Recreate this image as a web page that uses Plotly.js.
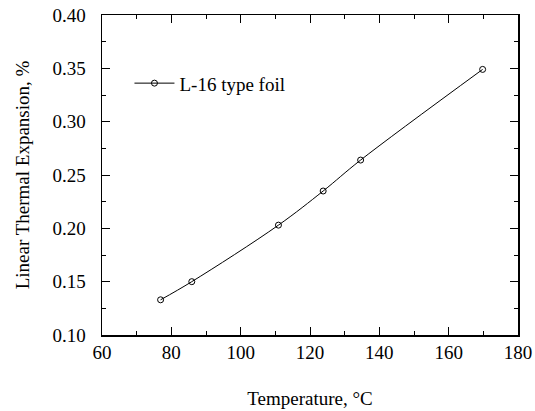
<!DOCTYPE html>
<html><head><meta charset="utf-8">
<script src="https://cdn.plot.ly/plotly-3.0.1.min.js"></script>
<style>body{margin:0;background:#fff}</style>
</head><body>
<div id="chart" style="width:535px;height:411px"></div>
<script>
var temperature = [76.9, 85.9, 110.9, 123.8, 134.6, 169.8];
var expansion = [0.133, 0.150, 0.203, 0.235, 0.264, 0.349];
var seriesName = "L-16 type foil";

var font = {family: "Liberation Serif, Times New Roman, serif", size: 19, color: "#000"};
var trace = {
  x: temperature, y: expansion, name: seriesName,
  type: "scatter", mode: "lines+markers",
  line: {color: "#000", width: 1, shape: "spline", smoothing: 1},
  marker: {symbol: "circle-open", size: 6, color: "#000", line: {width: 1}}
};
var axisCommon = {
  showline: true, linecolor: "#000", linewidth: 1.5, mirror: "ticks",
  ticks: "inside", ticklen: 8, tickwidth: 1, tickcolor: "#000",
  showgrid: false, zeroline: false, tickfont: font
};
var layout = {
  width: 535, height: 411,
  margin: {l: 102, r: 17, t: 15, b: 76},
  paper_bgcolor: "#fff", plot_bgcolor: "#fff",
  font: font,
  showlegend: true,
  legend: {x: 0.066, y: 0.846, xanchor: "left", yanchor: "top", bgcolor: "rgba(0,0,0,0)", font: font, itemwidth: 40},
  xaxis: Object.assign({}, axisCommon, {
    range: [60, 180], dtick: 20, tick0: 60,
    minor: {dtick: 10, ticks: "inside", ticklen: 4, tickcolor: "#000", showgrid: false},
    title: {text: "Temperature, °C", font: font, standoff: 29}
  }),
  yaxis: Object.assign({}, axisCommon, {
    range: [0.10, 0.40], dtick: 0.05, tick0: 0.10, tickformat: ".2f",
    ticklabelstandoff: 11,
    minor: {dtick: 0.025, ticks: "inside", ticklen: 4, tickcolor: "#000", showgrid: false},
    title: {text: "Linear Thermal Expansion, %", font: font, standoff: 18}
  })
};
Plotly.newPlot("chart", [trace], layout, {displayModeBar: false, staticPlot: true});
</script>
</body></html>
